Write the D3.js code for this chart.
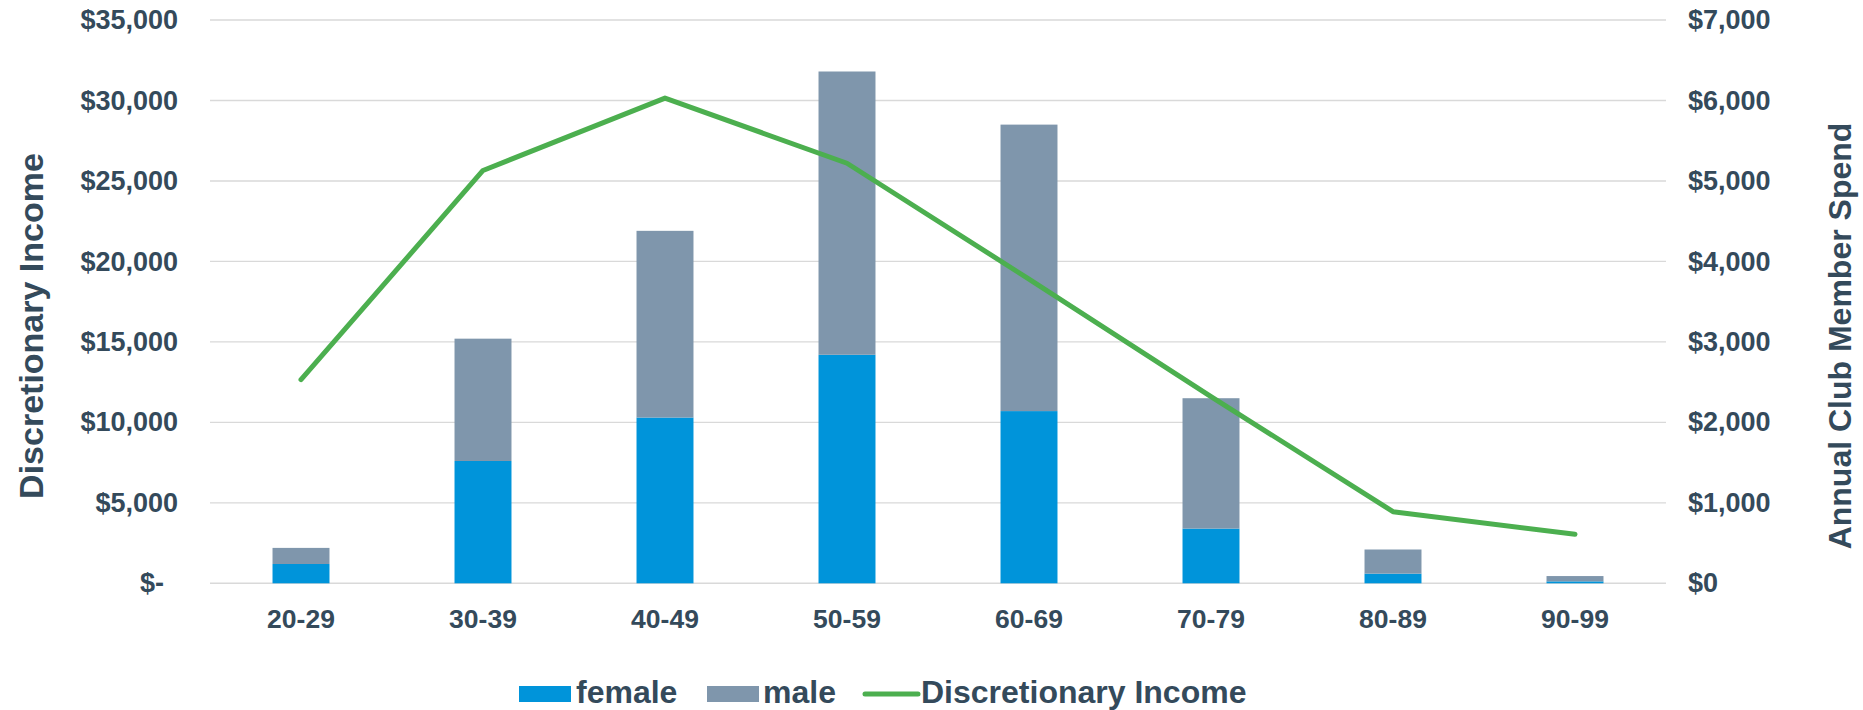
<!DOCTYPE html>
<html><head><meta charset="utf-8">
<script src="https://cdn.jsdelivr.net/npm/d3@7"></script>
<style>
html,body{margin:0;padding:0;background:#fff;}
text{font-family:"Liberation Sans",Arial,sans-serif;font-weight:bold;fill:#344a5b;}
</style></head>
<body>
<svg id="chart" width="1863" height="710"></svg>
<script>
// ---- data ----
const categories = ["20-29","30-39","40-49","50-59","60-69","70-79","80-89","90-99"];
const female = [1200, 7600, 10300, 14200, 10700, 3400, 600, 120];
const male   = [1000, 7600, 11600, 17600, 17800, 8100, 1500, 330];
const income = [2530, 5130, 6030, 5220, 3780, 2320, 890, 610];
const leftTicks  = [0, 5000, 10000, 15000, 20000, 25000, 30000, 35000];
const rightTicks = [0, 1000, 2000, 3000, 4000, 5000, 6000, 7000];
const seriesNames = ["female", "male", "Discretionary Income"];
const colors = {female:"#0094da", male:"#7f96ac", line:"#4caf4f"};

// ---- layout ----
const svg = d3.select("#chart");
const L = 210, R = 1666, T = 20, B = 583.3;

const x = d3.scaleBand().domain(categories).range([L, R]).padding(0);
const yL = d3.scaleLinear().domain([0, 35000]).range([B, T]);
const yR = d3.scaleLinear().domain([0, 7000]).range([B, T]);
const barW = x.bandwidth() * 0.313;

// gridlines
svg.append("g").selectAll("line").data(leftTicks).join("line")
  .attr("x1", L).attr("x2", R)
  .attr("y1", d => yL(d)).attr("y2", d => yL(d))
  .attr("stroke", "#d9d9d9").attr("stroke-width", 1.4);

// bars
const rows = categories.map((c, i) => ({cat: c, female: female[i], male: male[i]}));
const stack = d3.stack().keys(["female", "male"])(rows);
svg.append("g").selectAll("g").data(stack).join("g")
  .attr("fill", d => colors[d.key])
  .selectAll("rect").data(d => d).join("rect")
  .attr("x", d => x(d.data.cat) + x.bandwidth()/2 - barW/2)
  .attr("width", barW)
  .attr("y", d => yL(d[1]))
  .attr("height", d => yL(d[0]) - yL(d[1]));

// line
const line = d3.line()
  .x((d, i) => x(categories[i]) + x.bandwidth()/2)
  .y(d => yR(d));
svg.append("path").datum(income)
  .attr("d", line).attr("fill", "none")
  .attr("stroke", colors.line).attr("stroke-width", 5)
  .attr("stroke-linecap", "round").attr("stroke-linejoin", "round");

// axes
const fmtL = d => d === 0 ? "$-" : "$" + d3.format(",")(d);
const fmtR = d => d === 0 ? "$0" : "$" + d3.format(",")(d);

const gL = svg.append("g").attr("transform", `translate(${L},0)`)
  .call(d3.axisLeft(yL).tickValues(leftTicks).tickFormat(fmtL).tickSize(0).tickPadding(32));
gL.select(".domain").remove();
gL.selectAll("text").style("font-size", "27px").attr("fill", "#344a5b")
  .attr("dx", d => d === 0 ? -14 : 0);

const gR = svg.append("g").attr("transform", `translate(${R},0)`)
  .call(d3.axisRight(yR).tickValues(rightTicks).tickFormat(fmtR).tickSize(0).tickPadding(22));
gR.select(".domain").remove();
gR.selectAll("text").style("font-size", "27px").attr("fill", "#344a5b");

const gX = svg.append("g").attr("transform", `translate(0,${B})`)
  .call(d3.axisBottom(x).tickSize(0).tickPadding(0));
gX.select(".domain").remove();
gX.selectAll("text").style("font-size", "26.5px").attr("fill", "#344a5b")
  .attr("y", 45).attr("dy", 0);

// axis titles
svg.append("text").attr("transform", "translate(43,326) rotate(-90)")
  .attr("text-anchor", "middle").style("font-size", "34px")
  .text("Discretionary Income");
svg.append("text").attr("transform", "translate(1851,336) rotate(-90)")
  .attr("text-anchor", "middle").style("font-size", "32px")
  .text("Annual Club Member Spend");

// legend
const lg = svg.append("g");
const legY = 703;
lg.append("rect").attr("x", 519).attr("y", 686).attr("width", 52).attr("height", 16).attr("fill", colors.female);
lg.append("text").attr("x", 576).attr("y", legY).style("font-size", "32px").text(seriesNames[0]);
lg.append("rect").attr("x", 707).attr("y", 686).attr("width", 52).attr("height", 16).attr("fill", colors.male);
lg.append("text").attr("x", 763).attr("y", legY).style("font-size", "32px").text(seriesNames[1]);
lg.append("line").attr("x1", 865).attr("x2", 918).attr("y1", 694).attr("y2", 694)
  .attr("stroke", colors.line).attr("stroke-width", 5).attr("stroke-linecap", "round");
lg.append("text").attr("x", 921).attr("y", legY).style("font-size", "32px").text(seriesNames[2]);
</script>
</body></html>
